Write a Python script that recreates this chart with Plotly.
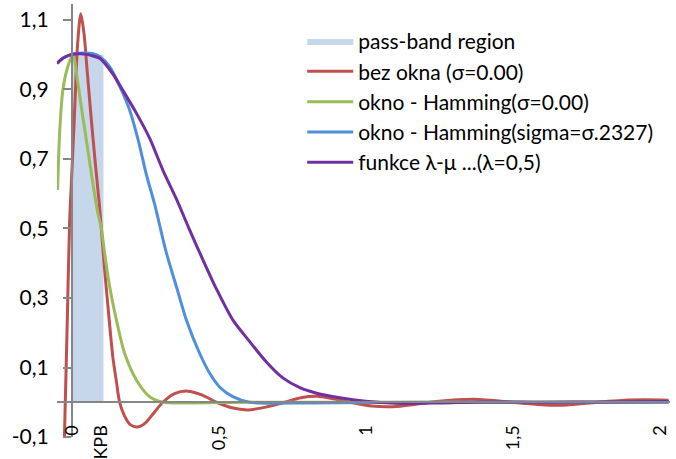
import plotly.graph_objects as go

# ---- data ----
kpb_width = 0.108
kpb_height = 1.0

x_red = [-0.025, -0.016, -0.007, 0.0, 0.01, 0.02, 0.031, 0.042, 0.052, 0.065, 0.08, 0.095,
         0.11, 0.125, 0.14, 0.152, 0.163, 0.18, 0.2, 0.224, 0.25, 0.28, 0.31, 0.35, 0.395,
         0.44, 0.493, 0.545, 0.599, 0.66, 0.724, 0.78, 0.833, 0.89, 0.946, 1.02, 1.092, 1.17,
         1.24, 1.31, 1.388, 1.46, 1.534, 1.61, 1.684, 1.75, 1.816, 1.88, 1.949, 2.03]
y_red = [-0.11, 0.2, 0.52, 0.65, 0.84, 1.03, 1.118, 1.06, 0.96, 0.83, 0.69, 0.56,
         0.40, 0.26, 0.13, 0.06, 0.0, -0.04, -0.065, -0.071, -0.06, -0.03, 0.0, 0.025, 0.032,
         0.022, 0.0, -0.016, -0.022, -0.014, 0.0, 0.013, 0.017, 0.01, 0.0, -0.011, -0.013, -0.006,
         0.002, 0.007, 0.008, 0.003, -0.003, -0.008, -0.008, -0.003, 0.002, 0.006, 0.007, 0.006]

x_green = [-0.048, -0.041, -0.03, -0.013, 0.004, 0.021, 0.038, 0.055, 0.072, 0.089, 0.101,
           0.112, 0.129, 0.152, 0.18, 0.22, 0.265, 0.31, 0.4, 0.6, 1.0, 1.5, 2.03]
y_green = [0.611, 0.775, 0.899, 0.966, 0.999, 0.918, 0.82, 0.726, 0.63, 0.544, 0.5,
           0.429, 0.333, 0.237, 0.141, 0.064, 0.016, 0.0, -0.002, 0.0, 0.0, 0.0, 0.0]

x_blue = [-0.05, -0.03, -0.01, 0.01, 0.04, 0.07, 0.095, 0.129, 0.169, 0.197, 0.226, 0.254,
          0.282, 0.299, 0.322, 0.356, 0.39, 0.435, 0.469, 0.503, 0.548, 0.605, 0.8, 1.2, 1.6, 2.03]
y_blue = [0.975, 0.99, 0.998, 1.003, 1.005, 1.004, 0.995, 0.966, 0.899, 0.841, 0.755, 0.655,
          0.57, 0.51, 0.43, 0.333, 0.237, 0.141, 0.084, 0.044, 0.016, 0.0, -0.002, 0.0, 0.0, 0.0]

x_purple = [-0.05, -0.03, -0.01, 0.01, 0.03, 0.05, 0.07, 0.095, 0.139, 0.173, 0.22, 0.265,
            0.31, 0.356, 0.401, 0.441, 0.493, 0.548, 0.605, 0.663, 0.718, 0.776, 0.833, 0.912,
            1.0, 1.1, 1.25, 1.4, 1.6, 1.8, 2.03]
y_purple = [0.975, 0.99, 0.998, 1.002, 1.003, 1.001, 0.997, 0.99, 0.946, 0.899, 0.832, 0.76,
            0.668, 0.585, 0.496, 0.42, 0.325, 0.237, 0.175, 0.115, 0.07, 0.042, 0.026, 0.013,
            0.003, -0.003, -0.002, 0.001, 0.0, 0.001, 0.002]

names = ["pass-band region", "bez okna (σ=0.00)", "okno - Hamming(σ=0.00)",
         "okno - Hamming(sigma=σ.2327)", "funkce λ-μ ...(λ=0,5)"]

x_tickvals = [0, 0.1, 0.5, 1, 1.5, 2]
x_ticktext = ["0", "KPB", "0,5", "1", "1,5", "2"]
y_tickvals = [-0.1, 0.1, 0.3, 0.5, 0.7, 0.9, 1.1]
y_ticktext = ["-0,1", "0,1", "0,3", "0,5", "0,7", "0,9", "1,1"]

# ---- layout constants ----
XR = [-0.05, 2.035]
YR = [-0.1, 1.146]
FONT = "Lato, 'Liberation Sans', sans-serif"
AXIS_COLOR = "#868686"

fig = go.Figure()
fig.add_trace(go.Scatter(
    x=[0, 0, kpb_width, kpb_width, 0], y=[0, kpb_height, kpb_height, 0, 0],
    fill="toself", fillcolor="#c6d6eb", mode="lines", line=dict(width=0, color="#c6d6eb"),
    name=names[0], hoverinfo="skip"))
for xs, ys, col, nm in [(x_red, y_red, "#c0504d", names[1]),
                        (x_green, y_green, "#9bbb59", names[2]),
                        (x_blue, y_blue, "#4f8fdc", names[3]),
                        (x_purple, y_purple, "#7030a0", names[4])]:
    fig.add_trace(go.Scatter(x=xs, y=ys, mode="lines", name=nm,
                             line=dict(color=col, width=3, shape="spline", smoothing=0.8)))

xpos = (0 - XR[0]) / (XR[1] - XR[0])
ypos = (0 - YR[0]) / (YR[1] - YR[0])

fig.update_layout(
    template="none",
    width=676, height=459,
    margin=dict(l=57, r=6, t=4, b=22, autoexpand=False),
    paper_bgcolor="white", plot_bgcolor="white",
    font=dict(family=FONT, size=21, color="#000000"),
    showlegend=True,
    legend=dict(x=0.40, y=0.961, xanchor="left", yanchor="top",
                bgcolor="rgba(0,0,0,0)", font=dict(size=21, family=FONT),
                tracegroupgap=0, itemwidth=46),
    xaxis=dict(range=XR, anchor="free", position=ypos, showgrid=False, zeroline=False,
               automargin=False,
               showline=True, linecolor=AXIS_COLOR, linewidth=1.5,
               tickmode="array", tickvals=x_tickvals, ticktext=x_ticktext,
               tickangle=-90, ticks="", ticklabelstandoff=15,
               tickfont=dict(size=18, family=FONT)),
    yaxis=dict(range=YR, anchor="free", position=xpos, showgrid=False, zeroline=False,
               automargin=False,
               showline=True, linecolor=AXIS_COLOR, linewidth=1.5,
               tickmode="array", tickvals=y_tickvals, ticktext=y_ticktext,
               ticks="outside", ticklen=8, tickcolor=AXIS_COLOR, tickwidth=1.5,
               ticklabelstandoff=10, tickfont=dict(size=21, family=FONT)),
)

fig.write_html("out.html", config={"displayModeBar": False},
               post_script="document.body.style.margin='0';document.body.style.overflow='hidden';")
